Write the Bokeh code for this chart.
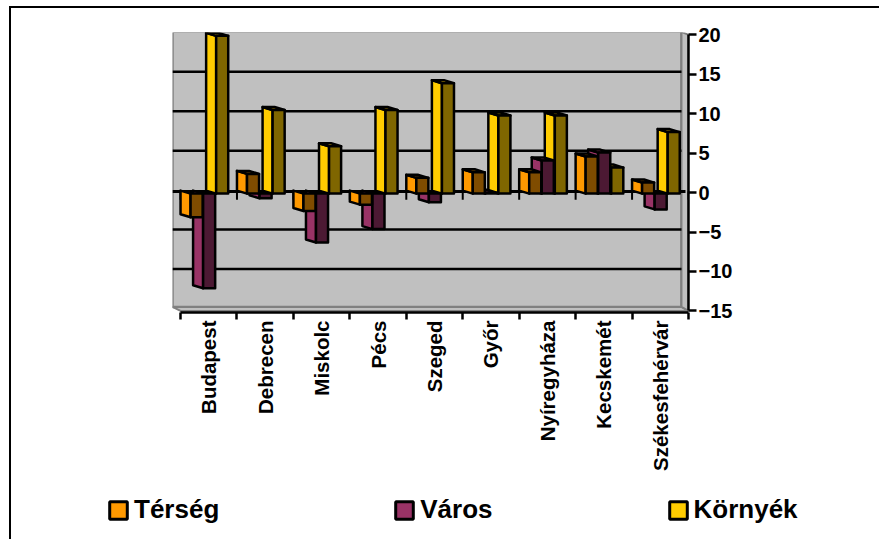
import math
from bokeh.plotting import figure
from bokeh.layouts import column
from bokeh.embed import file_html
from bokeh.resources import INLINE
from bokeh.models import FixedTicker, Legend, LegendItem, LinearAxis

cities = ["Budapest", "Debrecen", "Miskolc", "Pécs", "Szeged", "Győr", "Nyíregyháza", "Kecskemét", "Székesfehérvár"]
tersegek = [-3.0, 2.5, -2.2, -1.4, 2.0, 2.7, 2.7, 4.7, 1.4]
varos = [-12.0, -0.6, -6.2, -4.5, -1.1, 0.1, 4.2, 5.2, -2.0]
kornyek = [20.0, 10.6, 6.0, 10.6, 14.0, 9.9, 9.9, 3.3, 7.8]
series_names = ["Térség", "Város", "Környék"]
y_ticks = [-15, -10, -5, 0, 5, 10, 15, 20]

PX = 1 / 56.22   # x data units per pixel
PY = 1 / 7.83    # y data units per pixel
W, H = 868, 477
FW, FH = 514, 278
ML, MT = 161, 24

p = figure(width=W, height=H, frame_width=FW, frame_height=FH, output_backend="svg", toolbar_location=None,
           x_range=(-8 * PX, 9.0), y_range=(-15.2, 20.3), x_axis_location=None, y_axis_location=None,
           min_border_left=ML, min_border_top=MT, min_border_right=W - ML - FW + 2,
           min_border_bottom=H - MT - FH + 2, outline_line_color=None,
           background_fill_color="white", border_fill_color="white")
p.grid.visible = False
p.styles = {"margin-left": "9px", "margin-top": "6px", "border-left": "2px solid black",
            "border-top": "2px solid black"}

GRAY, EDGE = "#C0C0C0", "#808080"
xl, xr = -8 * PX, 9.0 - 7 * PX
top_y, bot_y = 20 + 3 * PY, -15 + 4 * PY
# back wall, floor, side wall
p.patch([xl, xr, xr, xl], [top_y, top_y, bot_y, bot_y], fill_color=GRAY, line_color=EDGE, line_width=2.5)
p.patch([xl, xr, 9.0, 0], [bot_y, bot_y, -15, -15], fill_color=GRAY, line_color=EDGE, line_width=2)
p.patch([xr, 9.0, 9.0, xr], [top_y, 20, -15, bot_y], fill_color=GRAY, line_color=EDGE, line_width=2)

# gridlines on the back wall
grid = [t for t in y_ticks if -15 < t < 20 and t != 0]
p.segment([xl] * len(grid), [t + 2.5 * PY for t in grid], [xr] * len(grid), [t + 2.5 * PY for t in grid],
          line_color="black", line_width=2.5)
# zero line and its ticks
p.segment([xl], [1.2 * PY], [9.0 - 3 * PX], [1.2 * PY], line_color="black", line_width=3)
p.segment(list(range(10)), [1 * PY] * 10, list(range(10)), [-7 * PY] * 10, line_color="black", line_width=2)

BACK, FRONT = 2.0 * PY, -1.0 * PY
LIGHT_W, BAR_W = 10 * PX, 22 * PX


def draw(values, offset_px, light, dark, top):
    lx, ly, dx, dy, tx, ty = [], [], [], [], [], []
    for i, v in enumerate(values):
        x0 = i + offset_px * PX
        x1, x2 = x0 + LIGHT_W, x0 + BAR_W
        lx.append([x0, x1, x1, x0])
        ly.append([BACK, FRONT, v + FRONT, v + BACK])
        dx.append([x1, x2, x2, x1])
        dy.append([FRONT, FRONT, v + FRONT, v + FRONT])
        if v > 0:
            tx.append([x0, x0 + 12 * PX, x2, x1])
            ty.append([v + BACK, v + BACK, v + FRONT, v + FRONT])
    p.patches(lx, ly, fill_color=light, line_color="black", line_width=2.5, line_join="round")
    p.patches(tx, ty, fill_color=top, line_color="black", line_width=2.5, line_join="round")
    p.patches(dx, dy, fill_color=dark, line_color="black", line_width=2.5, line_join="round")


LIGHTS = ["#FF9900", "#993366", "#FFCC00"]
draw(kornyek, 25.5, LIGHTS[2], "#7F6600", "#BF9900")
draw(varos, 12.5, LIGHTS[1], "#4C1933", "#993366")
draw(tersegek, 0, LIGHTS[0], "#7F4C00", "#7F4C00")

# axes
ax_y = LinearAxis(ticker=FixedTicker(ticks=y_ticks), bounds=(-15, 20))
ax_y.axis_line_width = 2.5
ax_y.major_tick_line_width = 2.5
ax_y.major_tick_in = 0
ax_y.major_tick_out = 8
ax_y.minor_tick_line_color = None
ax_y.major_label_text_font = "Liberation Sans"
ax_y.major_label_text_font_style = "bold"
ax_y.major_label_text_font_size = "20px"
ax_y.major_label_text_color = "black"
ax_y.major_label_standoff = 2
p.add_layout(ax_y, "right")

centers = [i + 0.5 for i in range(len(cities))]
ax_x = LinearAxis(ticker=FixedTicker(ticks=centers, minor_ticks=list(range(10))), bounds=(0, 9))
ax_x.major_label_overrides = {c: n for c, n in zip(centers, cities)}
ax_x.axis_line_width = 2.5
ax_x.major_tick_line_color = None
ax_x.major_tick_in = 0
ax_x.major_tick_out = 0
ax_x.minor_tick_line_color = "black"
ax_x.minor_tick_line_width = 2.5
ax_x.minor_tick_in = 0
ax_x.minor_tick_out = 7
ax_x.major_label_orientation = math.pi / 2
ax_x.major_label_text_font = "Liberation Sans"
ax_x.major_label_text_font_style = "bold"
ax_x.major_label_text_font_size = "20.5px"
ax_x.major_label_text_color = "black"
ax_x.major_label_standoff = 1
p.add_layout(ax_x, "below")

# legend strip: a second figure whose frame is wide enough to hold the legend
p2 = figure(width=W, height=54, output_backend="svg", toolbar_location=None,
            x_range=(0, 1), y_range=(0, 1), x_axis_location=None, y_axis_location=None,
            min_border=0, outline_line_color=None, background_fill_color="white", border_fill_color="white")
p2.grid.visible = False
p2.styles = {"margin-left": "9px", "border-left": "2px solid black"}
if "frame_align" in p.properties():
    p.frame_align = False
    p2.frame_align = False
items = []
for name, color in zip(series_names, LIGHTS):
    # the swatch's source sits outside the strip's ranges; only the legend shows it
    r = p2.quad(left=[2], right=[3], bottom=[2], top=[3], fill_color=color, line_color="black", line_width=3)
    items.append(LegendItem(label=name, renderers=[r]))
legend = Legend(items=items, orientation="horizontal", location=(96, 16), spacing=174, padding=0, margin=0,
                glyph_width=22, glyph_height=22, label_standoff=5,
                border_line_color=None, background_fill_alpha=0,
                label_text_font="Liberation Sans", label_text_font_style="bold",
                label_text_font_size="26px", label_text_color="black")
p2.add_layout(legend, "center")

open("out.html", "w").write(file_html(column(p, p2, spacing=0), INLINE))
